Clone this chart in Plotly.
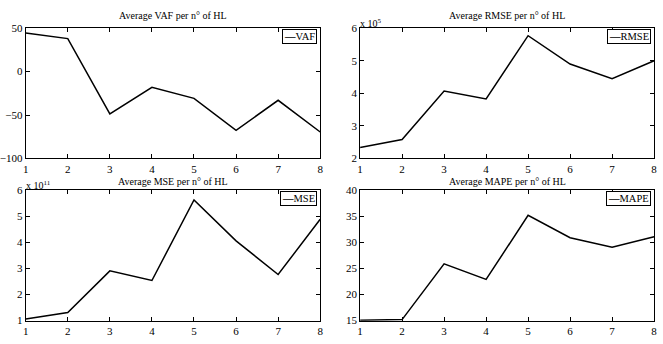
import plotly.graph_objects as go

hl = [1, 2, 3, 4, 5, 6, 7, 8]
vaf = [44.4, 38.0, -48.6, -18.0, -30.8, -67.6, -33.0, -69.5]
rmse = [2.34, 2.58, 4.07, 3.83, 5.77, 4.90, 4.45, 5.00]   # x 10^5
mse = [1.06, 1.31, 2.91, 2.54, 5.63, 4.06, 2.77, 4.89]    # x 10^11
mape = [15.06, 15.2, 25.9, 22.9, 35.2, 30.9, 29.1, 31.1]

titles = ["Average VAF per n° of HL", "Average RMSE per n° of HL",
          "Average MSE per n° of HL", "Average MAPE per n° of HL"]
names = ["VAF", "RMSE", "MSE", "MAPE"]
series = [vaf, rmse, mse, mape]
yranges = [[-100, 50], [2, 6], [1, 6], [15, 40]]
yticks = [[-100, -50, 0, 50], [2, 3, 4, 5, 6], [1, 2, 3, 4, 5, 6], [15, 20, 25, 30, 35, 40]]
exponents = [None, "5", "11", None]

W, H = 663, 344
xdoms = [[19 / W, 318 / W], [358.5 / W, 657 / W]]
ydoms = [[1 - 158 / H, 1 - 23 / H], [1 - 326 / H, 1 - 191 / H]]

FONT = "Liberation Serif"
fig = go.Figure()
layout = dict(width=W, height=H, margin=dict(l=0, r=0, t=0, b=0),
              paper_bgcolor="white", plot_bgcolor="white", showlegend=False,
              font=dict(family=FONT, size=11, color="black"))
annotations = []
for i in range(4):
    r, c = divmod(i, 2)
    sfx = "" if i == 0 else str(i + 1)
    fig.add_trace(go.Scatter(x=hl, y=series[i], mode="lines", name=names[i],
                             line=dict(color="black", width=1.5),
                             xaxis="x" + sfx, yaxis="y" + sfx))
    axcommon = dict(showgrid=False, zeroline=False, showline=True, linecolor="black",
                    linewidth=1, mirror="ticks", ticks="inside", ticklen=4,
                    tickcolor="black", tickwidth=1, tickfont=dict(family=FONT, size=11))
    layout["xaxis" + sfx] = dict(axcommon, domain=xdoms[c], range=[1, 8],
                                 tickvals=hl, anchor="y" + sfx, ticklabelstandoff=0)
    layout["yaxis" + sfx] = dict(axcommon, domain=ydoms[r], range=yranges[i],
                                 tickvals=yticks[i], anchor="x" + sfx)
    xm = (xdoms[c][0] + xdoms[c][1]) / 2
    annotations.append(dict(text=titles[i], x=xm, y=ydoms[r][1], xref="paper", yref="paper",
                            xanchor="center", yanchor="bottom", yshift=6 if r == 0 else 2,
                            showarrow=False, borderpad=0,
                            font=dict(family=FONT, size=10)))
    annotations.append(dict(text="<b>—</b>" + names[i], x=xdoms[c][1], y=ydoms[r][1],
                            xref="paper", yref="paper", xanchor="right", yanchor="top",
                            xshift=-3, yshift=-1, showarrow=False, bordercolor="black",
                            borderwidth=1, borderpad=1, bgcolor="white",
                            font=dict(family=FONT, size=10.5)))
    if exponents[i]:
        annotations.append(dict(text="x 10<sup>" + exponents[i] + "</sup>", x=xdoms[c][0],
                                y=ydoms[r][1], xref="paper", yref="paper", xanchor="left",
                                yanchor="bottom", xshift=-1, yshift=-2, showarrow=False,
                                borderpad=0, font=dict(family=FONT, size=10)))
layout["annotations"] = annotations
fig.update_layout(**layout)
fig.write_html("out.html")
